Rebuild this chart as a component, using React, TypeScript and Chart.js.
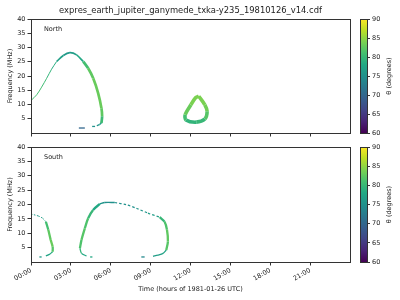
import React, { useEffect, useRef } from "react";
import { Chart, registerables } from "chart.js";

Chart.register(...registerables);

// ---------- labels & ticks ----------
const TITLE = "expres_earth_jupiter_ganymede_txka-y235_19810126_v14.cdf";
const X_LABEL = "Time (hours of 1981-01-26 UTC)";
const Y_LABEL = "Frequency (MHz)";
const CBAR_LABEL = "θ (degrees)";
const xTickHours = [0, 3, 6, 9, 12, 15, 18, 21, 24];
const yTickMHz = [5, 10, 15, 20, 25, 30, 35, 40];
const thetaTicks = [60, 65, 70, 75, 80, 85, 90];
const THETA_MIN = 60;
const THETA_MAX = 90;

// ---------- data: [hours, MHz, theta(deg)] ----------
const northRise = [[0, 11.4, 81], [0.43, 13.4, 81], [0.8, 16.1, 81], [1.18, 19.2, 80], [1.55, 22.4, 79], [1.93, 25.1, 78]];
const northCrest = [[1.93, 25.1, 78], [2.43, 27.2, 76], [2.93, 28.2, 76], [3.43, 27.4, 77], [3.93, 25.1, 79]];
const northFall = [[3.93, 25.1, 80], [4.3, 22.7, 82], [4.68, 19.2, 83], [5.05, 14.0, 83], [5.3, 8.7, 83], [5.35, 5.9, 82], [5.3, 3.5, 79]];
const northHook = [[5.3, 3.5, 77], [5.15, 2.95, 76], [4.95, 2.6, 75]];
const northDashA = [[4.6, 2.3, 75], [4.82, 2.3, 75]];
const northDashB = [[3.6, 1.75, 70], [4.05, 1.75, 70]];
const northBlob = [[12.62, 12.9, 84], [13.08, 9.9, 84], [13.25, 7.6, 83], [13.08, 4.9, 81], [12.43, 3.8, 79], [11.66, 4.6, 80], [11.6, 6.4, 82], [12.03, 9.9, 84], [12.38, 12.35, 84], [12.62, 12.9, 84]];

const southArcATop = [[0, 16.7, 76], [0.55, 16.0, 76], [0.88, 15.2, 77], [1.12, 14.0, 79]];
const southArcAFall = [[1.12, 14.0, 80], [1.3, 11.2, 82], [1.48, 7.7, 83], [1.63, 5.3, 83], [1.63, 3.6, 81]];
const southArcAHook = [[1.63, 3.6, 79], [1.43, 2.8, 78], [1.12, 2.1, 77]];
const southArcADash = [[0.63, 1.75, 76], [0.8, 1.75, 76]];
const southArcBHook = [[4.18, 2.1, 77], [3.8, 3.0, 79], [3.68, 4.8, 80]];
const southArcBDash = [[4.45, 1.75, 78], [4.62, 1.75, 78]];
const southArcBRise = [[3.68, 4.8, 81], [3.8, 7.7, 82], [4.05, 11.7, 82], [4.3, 15.2, 81], [4.67, 18.1, 79], [5.18, 20.2, 77]];
const southArcBCrest = [[5.18, 20.2, 76], [5.55, 20.7, 75], [6.3, 20.7, 75]];
const southArcBTail = [[6.3, 20.7, 75], [7.18, 19.9, 75], [7.93, 18.7, 75], [8.8, 17.0, 76], [9.68, 15.6, 77]];
const southArcBFall = [[9.68, 15.6, 79], [10.05, 14.0, 81], [10.23, 11.2, 82], [10.3, 7.1, 83], [10.18, 4.2, 81]];
const southArcBHook2 = [[10.18, 4.2, 78], [9.93, 3.0, 77], [9.55, 2.4, 77], [9.18, 2.0, 76]];
const southArcBDash2 = [[8.3, 1.75, 74], [8.55, 1.75, 74]];

// ---------- colormap ----------
const VIRIDIS = ["#440154", "#482475", "#414487", "#355f8d", "#2a788e", "#21918c", "#22a884", "#44bf70", "#7ad151", "#bddf26", "#fde725"];
function hexToRgb(h: string) {
  return [parseInt(h.slice(1, 3), 16), parseInt(h.slice(3, 5), 16), parseInt(h.slice(5, 7), 16)];
}
function viridis(t: number) {
  const c = Math.max(0, Math.min(1, t)) * (VIRIDIS.length - 1);
  const i = Math.min(VIRIDIS.length - 2, Math.floor(c));
  const f = c - i;
  const a = hexToRgb(VIRIDIS[i]);
  const b = hexToRgb(VIRIDIS[i + 1]);
  const m = a.map((v, k) => Math.round(v + (b[k] - v) * f));
  return `rgb(${m[0]},${m[1]},${m[2]})`;
}
const thetaColor = (th: number) => viridis((th - THETA_MIN) / (THETA_MAX - THETA_MIN));

const FONT = "DejaVu Sans";
const TEXT = "#222";
const AXIS = "#333";

type Trace = { pts: number[][]; width: number; dash?: number[] };

const northTraces: Trace[] = [
  { pts: northRise, width: 1 },
  { pts: northCrest, width: 1.7 },
  { pts: northFall, width: 2.7 },
  { pts: northHook, width: 1.3 },
  { pts: northDashA, width: 1.3 },
  { pts: northDashB, width: 1.3 },
  { pts: northBlob, width: 3.6 },
];
const southTraces: Trace[] = [
  { pts: southArcATop, width: 1, dash: [1.5, 1.5] },
  { pts: southArcAFall, width: 2.3 },
  { pts: southArcAHook, width: 1.3 },
  { pts: southArcADash, width: 1.3 },
  { pts: southArcBHook, width: 1.3 },
  { pts: southArcBDash, width: 1.3 },
  { pts: southArcBRise, width: 2.3 },
  { pts: southArcBCrest, width: 1.4 },
  { pts: southArcBTail, width: 1.2, dash: [2.5, 2] },
  { pts: southArcBFall, width: 2.3 },
  { pts: southArcBHook2, width: 1.3 },
  { pts: southArcBDash2, width: 1.3 },
];

function toDataset(tr: Trace) {
  const pts = tr.pts;
  return {
    data: pts.map(([x, y]) => ({ x, y })),
    showLine: true,
    pointRadius: 0,
    borderWidth: tr.width,
    borderDash: tr.dash || [],
    tension: 0.3,
    borderColor: thetaColor(pts[0][2]),
    segment: {
      borderColor: (ctx: any) => thetaColor((pts[ctx.p0DataIndex][2] + pts[ctx.p1DataIndex][2]) / 2),
    },
  };
}

const framePlugin = {
  id: "frame",
  afterDraw(chart: any) {
    const { ctx, chartArea } = chart;
    const l = Math.floor(chartArea.left) + 0.5;
    const t = Math.floor(chartArea.top) + 0.5;
    const r = Math.floor(chartArea.right) + 0.5;
    const b = Math.floor(chartArea.bottom) + 0.5;
    ctx.save();
    ctx.strokeStyle = AXIS;
    ctx.lineWidth = 1;
    ctx.strokeRect(l, t, r - l, b - t);
    ctx.restore();
  },
};

const panelTextPlugin = {
  id: "panelText",
  afterDraw(chart: any, _a: any, opts: any) {
    const { ctx, chartArea } = chart;
    ctx.save();
    ctx.fillStyle = TEXT;
    ctx.textBaseline = "middle";
    if (opts.title) {
      ctx.font = `8.4px "${FONT}"`;
      ctx.textAlign = "center";
      ctx.fillText(opts.title, (chartArea.left + chartArea.right) / 2, 11);
    }
    ctx.font = `6.5px "${FONT}"`;
    ctx.textAlign = "left";
    ctx.fillText(opts.label, chartArea.left + 13, chartArea.top + 10);
    ctx.restore();
  },
};

function mainConfig(traces: Trace[], o: { label: string; title?: string; showX: boolean; padTop: number; xH: number }) {
  const tickFont = { family: FONT, size: 6.5 };
  return {
    type: "scatter",
    data: { datasets: traces.map(toDataset) },
    options: {
      responsive: false,
      animation: false,
      events: [],
      layout: { padding: { top: o.padTop, right: 2, left: 0, bottom: 0 } },
      plugins: {
        legend: { display: false },
        tooltip: { enabled: false },
        panelText: { label: o.label, title: o.title },
      },
      scales: {
        x: {
          type: "linear",
          min: 0,
          max: 24,
          afterBuildTicks: (s: any) => {
            s.ticks = xTickHours.map((v) => ({ value: v }));
          },
          ticks: {
            display: o.showX,
            autoSkip: false,
            minRotation: 30,
            maxRotation: 30,
            padding: 1,
            color: TEXT,
            font: tickFont,
            callback: (v: number) => (v >= 24 ? null : `${String(v).padStart(2, "0")}:00`),
          },
          grid: { drawOnChartArea: false, tickLength: 3.5, color: AXIS },
          border: { display: false },
          title: { display: o.showX, text: X_LABEL, color: TEXT, font: tickFont, padding: { top: 0, bottom: 7 } },
          afterFit: (s: any) => {
            s.height = o.xH;
          },
        },
        y: {
          type: "linear",
          min: 0,
          max: 40,
          afterBuildTicks: (s: any) => {
            s.ticks = yTickMHz.map((v) => ({ value: v }));
          },
          ticks: { padding: 2, color: TEXT, font: tickFont },
          grid: { drawOnChartArea: false, tickLength: 3.5, color: AXIS },
          border: { display: false },
          title: { display: true, text: Y_LABEL, color: TEXT, font: tickFont, padding: { top: 6, bottom: 0 } },
          afterFit: (s: any) => {
            s.width = 31;
          },
        },
      },
    },
    plugins: [framePlugin, panelTextPlugin],
  };
}

const gradientPlugin = {
  id: "cbarGradient",
  beforeDatasetsDraw(chart: any) {
    const { ctx, chartArea } = chart;
    const g = ctx.createLinearGradient(0, chartArea.bottom, 0, chartArea.top);
    VIRIDIS.forEach((c, i) => g.addColorStop(i / (VIRIDIS.length - 1), c));
    ctx.save();
    ctx.fillStyle = g;
    ctx.fillRect(chartArea.left, chartArea.top, chartArea.right - chartArea.left, chartArea.bottom - chartArea.top);
    ctx.restore();
  },
};

const cbarLabelPlugin = {
  id: "cbarLabel",
  afterDraw(chart: any) {
    const { ctx, chartArea } = chart;
    ctx.save();
    ctx.fillStyle = TEXT;
    ctx.font = `6.5px "${FONT}"`;
    ctx.textAlign = "center";
    ctx.textBaseline = "middle";
    ctx.translate(34, (chartArea.top + chartArea.bottom) / 2);
    ctx.rotate(-Math.PI / 2);
    ctx.fillText(CBAR_LABEL, 0, 0);
    ctx.restore();
  },
};

function cbarConfig(padTop: number, padBottom: number) {
  return {
    type: "scatter",
    data: { datasets: [] },
    options: {
      responsive: false,
      animation: false,
      events: [],
      layout: { padding: { top: padTop, bottom: padBottom, left: 5, right: 0 } },
      plugins: { legend: { display: false }, tooltip: { enabled: false } },
      scales: {
        x: { display: false, min: 0, max: 1 },
        y: {
          position: "right",
          min: THETA_MIN,
          max: THETA_MAX,
          afterBuildTicks: (s: any) => {
            s.ticks = thetaTicks.map((v) => ({ value: v }));
          },
          ticks: { padding: 2, color: TEXT, font: { family: FONT, size: 6.5 } },
          grid: { drawOnChartArea: false, tickLength: 3, color: AXIS },
          border: { display: false },
          afterFit: (s: any) => {
            s.width = 33;
          },
        },
      },
    },
    plugins: [gradientPlugin, framePlugin, cbarLabelPlugin],
  };
}

export default function App() {
  const topRef = useRef<HTMLCanvasElement>(null);
  const topCbRef = useRef<HTMLCanvasElement>(null);
  const botRef = useRef<HTMLCanvasElement>(null);
  const botCbRef = useRef<HTMLCanvasElement>(null);

  useEffect(() => {
    const charts: Chart[] = [];
    charts.push(new Chart(topRef.current!, mainConfig(northTraces, { label: "North", title: TITLE, showX: false, padTop: 19, xH: 7 }) as any));
    charts.push(new Chart(topCbRef.current!, cbarConfig(19, 7) as any));
    charts.push(new Chart(botRef.current!, mainConfig(southTraces, { label: "South", showX: true, padTop: 7, xH: 38 }) as any));
    charts.push(new Chart(botCbRef.current!, cbarConfig(7, 38) as any));
    return () => charts.forEach((c) => c.destroy());
  }, []);

  const abs = (l: number, t: number): React.CSSProperties => ({ position: "absolute", left: l, top: t, display: "block" });

  return (
    <div style={{ position: "fixed", left: 0, top: 0, width: 400, height: 300, background: "#fff" }}>
      <canvas ref={topRef} width={352} height={140} style={abs(0, 0)} />
      <canvas ref={topCbRef} width={45} height={140} style={abs(355, 0)} />
      <canvas ref={botRef} width={352} height={160} style={abs(0, 140)} />
      <canvas ref={botCbRef} width={45} height={160} style={abs(355, 140)} />
    </div>
  );
}
